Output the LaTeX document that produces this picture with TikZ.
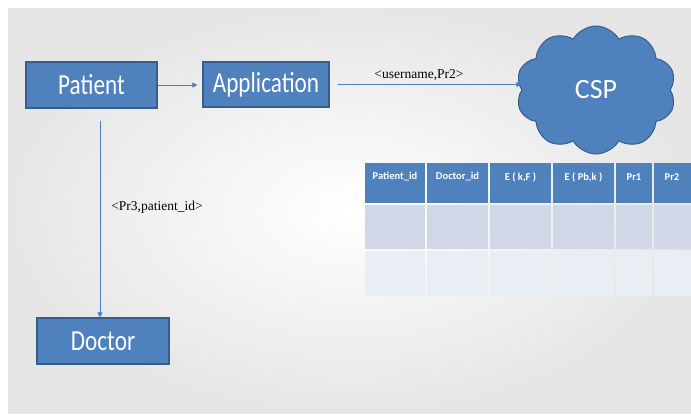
\documentclass[tikz,border=0pt]{standalone}
\usepackage{fontspec}
\setmainfont{Liberation Serif}
\newfontfamily\calibri{Carlito}
\usetikzlibrary{shapes.symbols,arrows.meta}
\definecolor{boxblue}{HTML}{4F81BD}
\definecolor{boxedge}{HTML}{385D8A}
\definecolor{lineblue}{HTML}{4A7EBB}
\definecolor{rowA}{HTML}{D0D8E8}
\definecolor{rowB}{HTML}{E9EDF4}
\definecolor{slidegray}{HTML}{E6E6E6}
\tikzset{
  entity/.style={draw=boxedge, line width=1.2pt, fill=boxblue, text=white,
    font=\calibri\fontsize{29}{30}\selectfont, inner sep=0pt},
  arr/.style={draw=lineblue, line width=0.9pt, -{Triangle[length=5pt,width=5pt]}},
  msg/.style={font=\fontsize{13.5}{14}\selectfont, inner sep=0pt},
  head/.style={text=white, font=\calibri\bfseries\fontsize{10.5}{11}\selectfont, inner sep=0pt},
}
\begin{document}
\begin{tikzpicture}[x=1pt,y=-1pt]
\useasboundingbox (0,0) rectangle (691,415);
\fill[white] (0,0) rectangle (691,415);
\shade[inner color=white, outer color=slidegray] (8,8) rectangle (691,413);

% entities
\node[entity, minimum width=131pt, minimum height=46pt] (patient) at (91.5,85) {\scalebox{0.8}[1]{Patient}};
\node[entity, minimum width=126pt, minimum height=45pt] (app) at (266,84.5) {\scalebox{0.8}[1]{Application}};
\node[entity, minimum width=132pt, minimum height=46pt] (doctor) at (103,341) {\scalebox{0.8}[1]{Doctor}};
\node[cloud, cloud puffs=10, cloud puff arc=120, aspect=1.25, draw=boxedge, line width=1pt,
      fill=boxblue, text=white, font=\calibri\fontsize{28}{30}\selectfont,
      minimum width=160pt, minimum height=128pt, inner sep=0pt] (csp) at (596,90) {CSP};

% connectors
\draw[arr, shorten >=5pt] (patient.east) -- (app.west |- patient.east);
\draw[arr, shorten <=8pt] (app.east) -- (csp.west |- app.east);
\draw[arr, shorten <=12pt] ([xshift=-3pt]doctor.north |- patient.south) -- ([xshift=-3pt]doctor.north);

% labels
\node[msg] (lab1) at (419,75) {<username,Pr2>};
\node[msg] (lab2) at (157,207) {<Pr3,patient\_id>};

% table
\begin{scope}
\clip (0,0) rectangle (691,415);
\foreach \xa/\xb in {364/426,426/489,489/552,552/615,615/653,653/700}{
  \fill[boxblue] (\xa+1,163) rectangle (\xb-1,203);
  \fill[rowA] (\xa+1,205) rectangle (\xb-1,249);
  \fill[rowB] (\xa+1,251) rectangle (\xb-1,296);
}
\end{scope}
\node[head] (h1) at (395,177) {Patient\_id};
\node[head] (h2) at (457.5,177) {Doctor\_id};
\node[head] (h3) at (520.5,177) {E ( k,F )};
\node[head] (h4) at (583.5,177) {E ( Pb,k )};
\node[head] (h5) at (634,177) {Pr1};
\node[head] (h6) at (672,177) {Pr2};
\end{tikzpicture}
\end{document}
